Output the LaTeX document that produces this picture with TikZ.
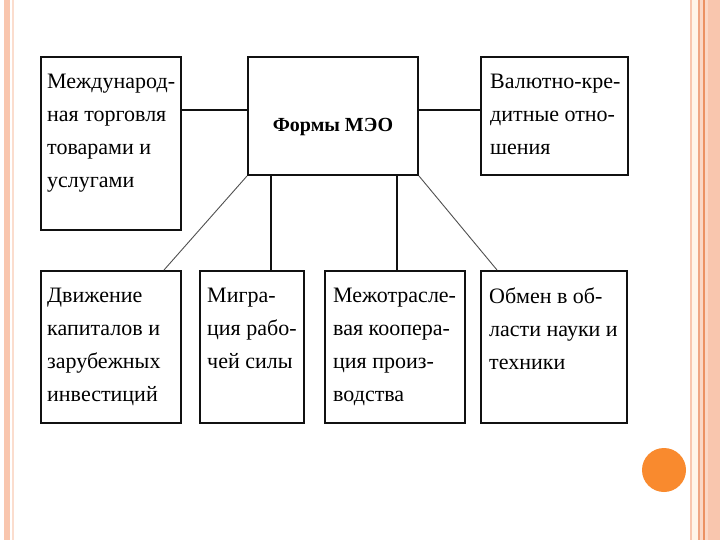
\documentclass[tikz,border=0pt]{standalone}
\usepackage{fontspec}
\setmainfont{Liberation Serif}
\usepackage{xcolor}
\usetikzlibrary{calc}
\definecolor{ink}{HTML}{111111}
\definecolor{slimgray}{HTML}{505050}
\definecolor{salmon}{HTML}{F9C6AE}
\definecolor{salmonline}{HTML}{EFA684}
\definecolor{orangeline}{HTML}{EC9162}
\definecolor{cream}{HTML}{FFF4E8}
\definecolor{dotorange}{HTML}{F98A2E}
\tikzset{
  formbox/.style={draw=ink,line width=2pt,anchor=north west,inner sep=0pt},
  formtext/.style={anchor=north west,align=left,inner sep=0pt,
                   font=\fontsize{22}{33}\selectfont},
  link/.style={draw=ink,line width=2pt},
  slimlink/.style={draw=slimgray,line width=0.9pt}
}
\begin{document}
\begin{tikzpicture}[x=1pt,y=-1pt]
    \path[use as bounding box,fill=white] (0,0) rectangle (720,540);
    \fill[salmon] (3.5,0) rectangle (9.7,540);
    \draw[salmon!60,line width=1.5pt] (12.8,0) -- (12.8,540);
    \fill[cream] (691,0) rectangle (698,540);
    \draw[salmon,line width=1.2pt] (691,0) -- (691,540);
    \draw[salmonline,line width=2pt] (699,0) -- (699,540);
    \fill[salmon!70] (700,0) rectangle (720,540);
    \draw[orangeline,line width=1.5pt] (704,0) -- (704,540);
    \fill[salmon] (708,0) rectangle (720,540);
    \fill[dotorange] (664,470) circle (22);
    \node[formbox,minimum width=140pt,minimum height=173pt] (trade) at (40,56) {};
    \node[formbox,minimum width=170pt,minimum height=118pt] (forms) at (247,56) {};
    \node[formbox,minimum width=147pt,minimum height=118pt] (credit) at (480,56) {};
    \node[formbox,minimum width=140pt,minimum height=152pt] (capital) at (40,270) {};
    \node[formbox,minimum width=104pt,minimum height=152pt] (labour) at (199,270) {};
    \node[formbox,minimum width=140pt,minimum height=152pt] (coop) at (324,270) {};
    \node[formbox,minimum width=146pt,minimum height=152pt] (science) at (480,270) {};
    \node[anchor=base,inner sep=0pt,font=\fontsize{20}{26}\selectfont\bfseries]
      (formslabel) at ($(forms.center)+(0,16)$) {Формы МЭО};
    \node[formtext] (tradetext) at ($(trade.north west)+(7,18)$)
      {Международ-\\ная торговля\\товарами и\\услугами};
    \node[formtext] (credittext) at ($(credit.north west)+(10,18)$)
      {Валютно-кре-\\дитные отно-\\шения};
    \node[formtext] (capitaltext) at ($(capital.north west)+(7,18)$)
      {Движение\\капиталов и\\зарубежных\\инвестиций};
    \node[formtext] (labourtext) at ($(labour.north west)+(8,18)$)
      {Мигра-\\ция рабо-\\чей силы};
    \node[formtext] (cooptext) at ($(coop.north west)+(9,18)$)
      {Межотрасле-\\вая коопера-\\ция произ-\\водства};
    \node[formtext] (sciencetext) at ($(science.north west)+(9,18)$)
      {Обмен в об-\\ласти науки и\\техники};
    \coordinate (leftjoin) at ($(forms.west)+(0,-6)$);
    \coordinate (rightjoin) at ($(forms.east)+(0,-6)$);
    \coordinate (labourdrop) at ($(forms.south west)+(24,0)$);
    \coordinate (coopdrop) at ($(forms.south west)+(150,0)$);
    \draw[link] (leftjoin) -- (leftjoin -| trade.east);
    \draw[link] (rightjoin) -- (rightjoin -| credit.west);
    \draw[link] (labourdrop) -- (labourdrop |- labour.north);
    \draw[link] (coopdrop) -- (coopdrop |- coop.north);
    \draw[slimlink] (forms.south west) -- ($(capital.north east)+(-18,0)$);
    \draw[slimlink] (forms.south east) -- ($(science.north west)+(17,0)$);
  \end{tikzpicture}
\end{document}
